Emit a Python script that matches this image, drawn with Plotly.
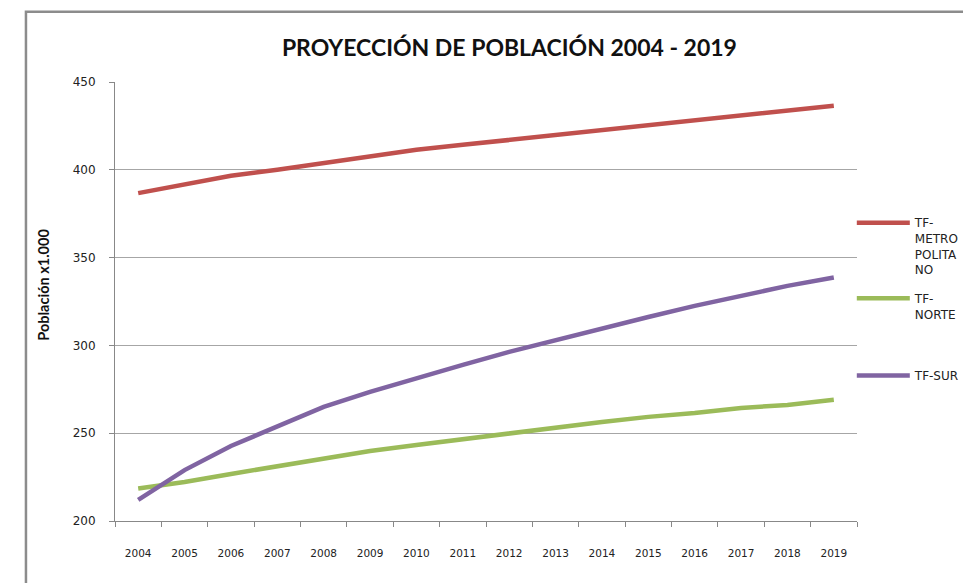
import plotly.graph_objects as go

years = ["2004", "2005", "2006", "2007", "2008", "2009", "2010", "2011",
         "2012", "2013", "2014", "2015", "2016", "2017", "2018", "2019"]

metropolitano = [386.7, 391.5, 396.6, 400.0, 404.0, 408.0, 411.4, 414.2,
                 417.0, 420.0, 422.8, 425.6, 428.5, 431.3, 433.6, 436.5]
norte = [218.5, 222.2, 226.8, 231.3, 235.3, 239.9, 243.3, 246.7,
         250.1, 253.0, 256.4, 259.3, 261.5, 264.4, 266.1, 269.0]
sur = [212.0, 229.0, 242.7, 254.1, 265.0, 273.5, 281.5, 288.9,
       296.3, 303.1, 309.4, 316.2, 322.5, 328.2, 333.9, 338.7]

series_names = ["TF-<br>METRO<br>POLITA<br>NO", "TF-<br>NORTE", "TF-SUR"]
series_colors = ["#C0504D", "#9BBB59", "#8064A2"]

fig = go.Figure()

legends = ["legend", "legend2", "legend3"]
for vals, name, color, lg in zip([metropolitano, norte, sur], series_names, series_colors, legends):
    fig.add_trace(go.Scatter(x=years, y=vals, mode="lines", name=name,
                             line=dict(color=color, width=4.5), legend=lg))

legend_style = dict(xanchor="left", yanchor="top", bgcolor="rgba(0,0,0,0)",
                    font=dict(family="DejaVu Sans", size=12, color="#222"),
                    valign="top", itemwidth=53)

fig.update_layout(
    width=963, height=583,
    margin=dict(l=115, r=106, t=82, b=62, autoexpand=False),
    plot_bgcolor="white", paper_bgcolor="white",
    title=dict(text="<b>PROYECCIÓN DE POBLACIÓN 2004 - 2019</b>",
               font=dict(family="Lato", size=23, color="#111"),
               x=0.529, xanchor="center", xref="container",
               y=0.918, yanchor="middle", yref="container"),
    xaxis=dict(type="category", range=[-0.5, len(years) - 0.5],
               tickson="boundaries", ticks="outside", ticklen=5,
               tickcolor="#888", showline=True, linecolor="#888", linewidth=1,
               showgrid=False, ticklabelstandoff=22,
               tickfont=dict(family="DejaVu Sans", size=10.5, color="#222")),
    yaxis=dict(range=[200, 450], dtick=50, ticks="outside", ticklen=5,
               tickcolor="#888", showline=True, linecolor="#888", linewidth=1,
               showgrid=True, gridcolor="#A6A6A6", gridwidth=1,
               tickfont=dict(family="DejaVu Sans", size=12, color="#222"),
               ticklabelstandoff=11, zeroline=False),
    legend=dict(x=0.993, y=0.712, **legend_style),
    legend2=dict(x=0.993, y=0.54, **legend_style),
    legend3=dict(x=0.993, y=0.364, **legend_style),
    showlegend=True,
)

fig.add_annotation(text="<b>Población x1.000</b>", textangle=-90,
                   xref="paper", yref="paper", x=-0.11, y=0.538,
                   showarrow=False, font=dict(family="Lato", size=14.5, color="#111"))

# marco exterior del gráfico
fig.add_shape(type="rect", xref="paper", yref="paper",
              x0=-0.12, x1=1.3, y0=-0.3, y1=1.16,
              line=dict(color="#8C8C8C", width=2.5), layer="below")

fig.write_html("out.html", config={"displayModeBar": False},
               post_script="document.body.style.margin='0';")
